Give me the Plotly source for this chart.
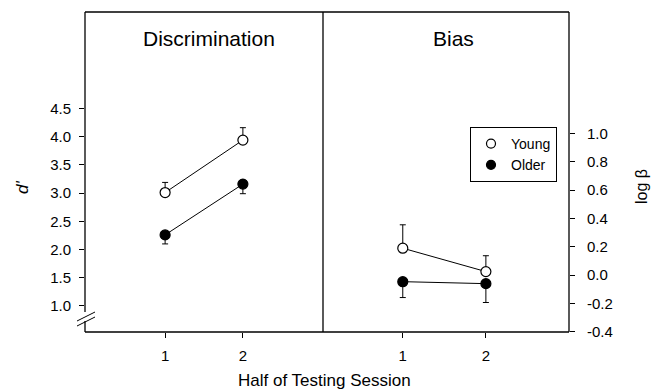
import plotly.graph_objects as go

# ---- data ----
halves = [1, 2]
d_young = [3.01, 3.94]
d_young_err = [0.18, 0.22]
d_older = [2.26, 3.16]
d_older_err = [0.16, 0.17]

b_young = [0.19, 0.025]
b_young_err = [0.165, 0.112]
b_older = [-0.046, -0.06]
b_older_err = [0.112, 0.133]

d_ticks = [1.0, 1.5, 2.0, 2.5, 3.0, 3.5, 4.0, 4.5]
d_labels = ["1.0", "1.5", "2.0", "2.5", "3.0", "3.5", "4.0", "4.5"]
b_ticks = [-0.4, -0.2, 0.0, 0.2, 0.4, 0.6, 0.8, 1.0]
b_labels = ["-0.4", "-0.2", "0.0", "0.2", "0.4", "0.6", "0.8", "1.0"]

FONT = "Liberation Sans, Arial, sans-serif"
W, H = 661, 392
L, R, T, B = 85, 569, 12, 332
DIV = 323
dsplit = (DIV - L) / (R - L)

fig = go.Figure()

def add(x, y, err, filled, xa, ya, up):
    ed = dict(type="data", symmetric=False, color="black", thickness=1, width=3)
    if up:
        ed["array"] = err
        ed["arrayminus"] = [0] * len(err)
    else:
        ed["array"] = [0] * len(err)
        ed["arrayminus"] = err
    fig.add_trace(go.Scatter(
        x=x, y=y, mode="lines+markers", xaxis=xa, yaxis=ya, showlegend=False,
        line=dict(color="black", width=1),
        marker=dict(symbol="circle", size=10, color="black" if filled else "white",
                    line=dict(color="black", width=1.2)),
        error_y=ed, cliponaxis=False))

add(halves, d_young, d_young_err, False, "x", "y", True)
add(halves, d_older, d_older_err, True, "x", "y", False)
add(halves, b_young, b_young_err, False, "x2", "y2", True)
add(halves, b_older, b_older_err, True, "x2", "y2", False)

# legend entries
for name, filled in [("Young", False), ("Older", True)]:
    fig.add_trace(go.Scatter(
        x=[None], y=[None], mode="markers", name=name, xaxis="x2", yaxis="y2",
        marker=dict(symbol="circle", size=9, color="black" if filled else "white",
                    line=dict(color="black", width=1.2))))

axcommon = dict(showgrid=False, zeroline=False, showline=False, ticks="outside",
                ticklen=5, tickwidth=1, tickcolor="black",
                tickfont=dict(family=FONT, size=15, color="black"))

fig.update_layout(
    width=W, height=H,
    margin=dict(l=L, r=W - R, t=T, b=H - B, pad=0),
    paper_bgcolor="white", plot_bgcolor="white",
    font=dict(family=FONT, color="black"),
    xaxis=dict(domain=[0, dsplit], range=[-0.03, 3.03], tickvals=halves,
               anchor="y", ticklabelstandoff=5, **axcommon),
    xaxis2=dict(domain=[dsplit, 1], range=[0.04, 3.0], tickvals=halves,
                anchor="y2", ticklabelstandoff=5, **axcommon),
    yaxis=dict(domain=[0, 1], range=[0.539, 6.21], tickvals=d_ticks, ticktext=d_labels,
               anchor="x", side="left", ticklabelstandoff=5, **axcommon),
    yaxis2=dict(domain=[0, 1], range=[-0.401, 1.856], tickvals=b_ticks, ticktext=b_labels,
                anchor="x2", side="right", ticklabelstandoff=9, **axcommon),
    legend=dict(x=(470 - L) / (R - L), y=(B - 127) / (B - T), xanchor="left",
                yanchor="top", bgcolor="white", bordercolor="black", borderwidth=1,
                font=dict(family=FONT, size=14, color="black"), itemwidth=30,
                tracegroupgap=0),
)

def px(x):
    return (x - L) / (R - L)

def py(y):
    return (B - y) / (B - T)

line = dict(color="black", width=1.3)
shapes = [
    dict(type="line", xref="paper", yref="paper", x0=0, x1=1, y0=1, y1=1, line=line),
    dict(type="line", xref="paper", yref="paper", x0=0, x1=1, y0=0, y1=0, line=line),
    dict(type="line", xref="paper", yref="paper", x0=1, x1=1, y0=0, y1=1, line=line),
    dict(type="line", xref="paper", yref="paper", x0=dsplit, x1=dsplit, y0=0, y1=1, line=line),
    dict(type="line", xref="paper", yref="paper", x0=0, x1=0, y0=1, y1=py(312), line=line),
    dict(type="line", xref="paper", yref="paper", x0=0, x1=0, y0=py(321), y1=0, line=line),
    dict(type="line", xref="paper", yref="paper", x0=px(77), x1=px(95), y0=py(321), y1=py(312), line=dict(color="black", width=1)),
    dict(type="line", xref="paper", yref="paper", x0=px(77), x1=px(95), y0=py(326), y1=py(317), line=dict(color="black", width=1)),
]
fig.update_layout(shapes=shapes)

ann = [
    dict(text="Discrimination", x=px(209), y=py(39), size=21, angle=0),
    dict(text="Bias", x=px(453), y=py(39), size=21, angle=0),
    dict(text="Half of Testing Session", x=px(324), y=py(380), size=17, angle=0),
    dict(text="<i>d'</i>", x=px(22), y=py(187), size=17, angle=-90),
    dict(text="log β", x=px(641), y=py(187), size=16, angle=-90),
]
for a in ann:
    fig.add_annotation(text=a["text"], x=a["x"], y=a["y"], xref="paper", yref="paper",
                       xanchor="center", yanchor="middle", showarrow=False,
                       textangle=a["angle"],
                       font=dict(family=FONT, size=a["size"], color="black"))

fig.write_html("out.html", config={"displayModeBar": False},
               post_script="document.body.style.margin='0';")
